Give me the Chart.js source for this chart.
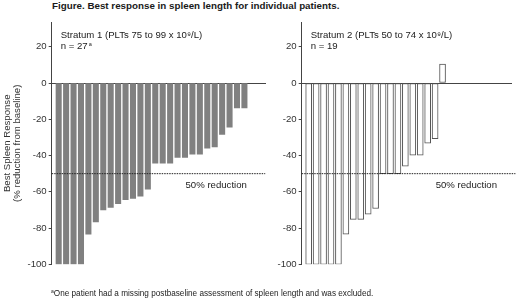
<!DOCTYPE html>
<html>
<head>
<meta charset="utf-8">
<script src="https://cdn.jsdelivr.net/npm/chart.js@4/dist/chart.umd.min.js"></script>
<style>
  html, body { margin: 0; padding: 0; background: #fff; }
  body { width: 520px; height: 303px; position: relative; overflow: hidden; font-family: "Liberation Sans", Arial, sans-serif; color: #1a1a1a; }
  #title { position: absolute; left: 52px; top: 0px; font-size: 9.8px; font-weight: bold; white-space: nowrap; }
  #foot { position: absolute; left: 51px; top: 288px; font-size: 8.2px; white-space: nowrap; color: #222; }
  #foot sup { font-size: 5px; vertical-align: 3px; }
  .wrap { position: absolute; top: 0; height: 303px; }
</style>
</head>
<body>
<div id="title">Figure. Best response in spleen length for individual patients.</div>
<div class="wrap" style="left:0;width:270px"><canvas id="c1"></canvas></div>
<div class="wrap" style="left:262px;width:258px"><canvas id="c2"></canvas></div>
<div id="foot"><sup>a</sup>One patient had a missing postbaseline assessment of spleen length and was excluded.</div>
<script>
// ---- data ----
const stratum1Values = [-100, -100, -100, -100, -83.4, -76.6, -70, -68.6, -66.6, -64.4, -63.7, -62.4, -58.6,
  -44.2, -44.2, -44.2, -41.1, -41.1, -39.2, -39.2, -36, -35.2, -28.3, -24.3, -13.7, -13.7];
const stratum2Values = [-100, -100, -100, -100, -100, -83.4, -75.2, -75.2, -72.4, -69.2, -50, -50, -50,
  -45.8, -39.8, -39.8, -33.2, -30.7, 10.4];
const yTickValues = [20, 0, -20, -40, -60, -80, -100];
const thresholdValue = -50;
const thresholdLabel = "50% reduction";
const panel1Lines = ["Stratum 1 (PLTs 75 to 99 x 10\u2079/L)", "n = 27"];
const panel1Super = "a";
const panel2Lines = ["Stratum 2 (PLTs 50 to 74 x 10\u2079/L)", "n = 19"];
const panel2Super = "";
const yTitleLines = ["Best Spleen Response", "(% reduction from baseline)"];

const FONT = '"Liberation Sans", Arial, sans-serif';
const AXIS = '#444';

function makeChart(id, values, opts) {
  const pts = values.map((v, i) => ({x: i, y: v}));
  const lineEnd = 27.8;
  const textPlugin = {
    id: 'txt' + id,
    afterDraw(chart) {
      const {ctx, chartArea} = chart;
      const xs = chart.scales.x, ys = chart.scales.y;
      ctx.save();
      ctx.fillStyle = '#1a1a1a';
      ctx.font = '9.6px ' + FONT;
      ctx.textBaseline = 'middle';
      ctx.textAlign = 'left';
      const x0 = chartArea.left + 9;
      const y20 = ys.getPixelForValue(20);
      ctx.fillText(opts.lines[0], x0, y20 - 11.5);
      ctx.fillText(opts.lines[1], x0, y20);
      if (opts.sup) {
        const w = ctx.measureText(opts.lines[1]).width;
        ctx.font = '5.5px ' + FONT;
        ctx.fillText(opts.sup, x0 + w + 1, y20 - 2.5);
      }
      ctx.font = '9.6px ' + FONT;
      ctx.textAlign = 'center';
      ctx.fillText(thresholdLabel, xs.getPixelForValue(21.2), ys.getPixelForValue(thresholdValue) + 11.5);
      ctx.restore();
    }
  };
  return new Chart(document.getElementById(id), {
    type: 'bar',
    data: {
      datasets: [{
        type: 'bar',
        data: pts,
        backgroundColor: opts.fill,
        borderColor: opts.border,
        borderWidth: opts.bw,
        borderSkipped: opts.bw ? false : 'start',
        barThickness: opts.thick,
        order: 2
      }, {
        type: 'line',
        data: [{x: opts.xmin, y: thresholdValue}, {x: lineEnd, y: thresholdValue}],
        borderColor: '#222',
        borderWidth: 1,
        borderDash: [1.5, 1],
        pointRadius: 0,
        clip: false,
        order: 1
      }]
    },
    options: {
      responsive: true,
      maintainAspectRatio: false,
      animation: false,
      events: [],
      layout: { padding: { top: 22.3, bottom: 303 - 264.3, left: 0, right: opts.padRight } },
      plugins: { legend: { display: false }, tooltip: { enabled: false } },
      scales: {
        x: {
          type: 'linear',
          min: opts.xmin,
          max: opts.xmax,
          offset: false,
          bounds: 'ticks',
          position: { y: 0 },
          grid: { display: false, offset: false },
          ticks: { display: false },
          border: { display: true, color: AXIS, width: 1 }
        },
        y: {
          type: 'linear',
          min: -100,
          max: 33.5,
          afterBuildTicks(scale) { scale.ticks = yTickValues.map(v => ({value: v})); },
          afterFit(scale) { scale.width = opts.yWidth; },
          grid: { display: true, drawOnChartArea: false, drawTicks: true, tickLength: 3, color: AXIS, lineWidth: 1 },
          border: { display: true, color: AXIS, width: 1 },
          ticks: { color: '#333', font: { family: FONT, size: 9.6 }, padding: 2 },
          title: {
            display: !!opts.yTitle,
            text: opts.yTitle || '',
            color: '#333',
            font: { family: FONT, size: 9.6, lineHeight: 1.05 },
            padding: { top: 2.5, bottom: 0 }
          }
        }
      }
    },
    plugins: [textPlugin]
  });
}

makeChart('c1', stratum1Values, {
  fill: '#808080', border: '#6a6a6a', bw: 0, thick: 5.4,
  xmin: -0.94, xmax: 27.77, yWidth: 51.7, padRight: 5,
  lines: panel1Lines, sup: panel1Super, yTitle: yTitleLines
});
makeChart('c2', stratum2Values, {
  fill: '#ffffff', border: '#555', bw: 1, thick: 6,
  xmin: -0.94, xmax: 27.3, yWidth: 39.7, padRight: 8.3,
  lines: panel2Lines, sup: panel2Super, yTitle: null
});
</script>
</body>
</html>
